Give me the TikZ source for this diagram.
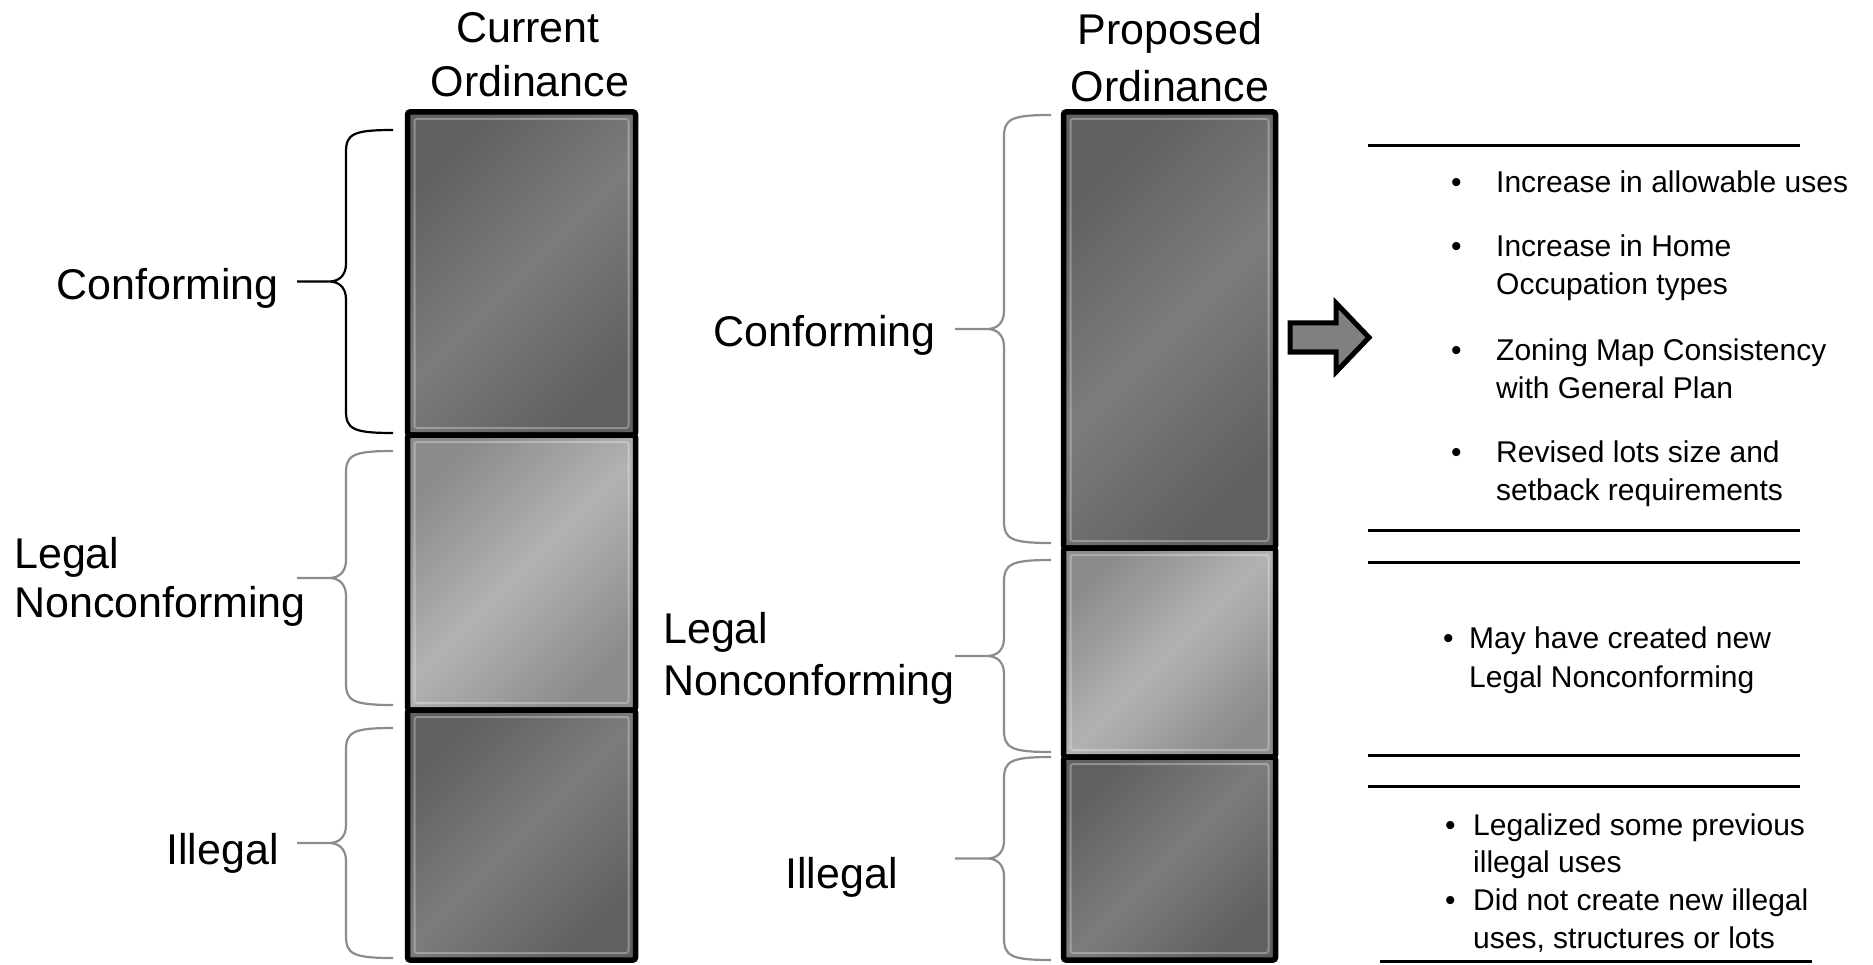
\documentclass[tikz,border=0pt]{standalone}
\usepackage{fontspec}
\setmainfont{Liberation Sans}
\definecolor{segdk}{RGB}{96,96,96}
\definecolor{segdm}{RGB}{124,124,124}
\definecolor{seglt}{RGB}{140,140,140}
\definecolor{seglm}{RGB}{178,178,178}
% curly brace: style, end x, top y, bottom y
\newcommand{\ordbrace}[4]{%
  \draw[#1] (#2,#3) .. controls ({#2-40},#3) and ({#2-47},{#3+4}) .. ({#2-47},{#3+22})
    -- ({#2-47},{(#3+#4)/2-18}) .. controls ({#2-47},{(#3+#4)/2-5}) and ({#2-55},{(#3+#4)/2}) .. ({#2-64},{(#3+#4)/2})
    -- ({#2-96},{(#3+#4)/2})
    ({#2-64},{(#3+#4)/2}) .. controls ({#2-55},{(#3+#4)/2}) and ({#2-47},{(#3+#4)/2+5}) .. ({#2-47},{(#3+#4)/2+18})
    -- ({#2-47},{#4-22}) .. controls ({#2-47},{#4-4}) and ({#2-40},#4) .. (#2,#4);}

\begin{document}
\begin{tikzpicture}[x=1pt, y=-1pt,
  seg/.style={rectangle, draw=black, line width=5.5, rounded corners=2.5, inner sep=0,
    path picture={\draw[white, opacity=.3, line width=2] ([shift={(7,7)}]path picture bounding box.north west) rectangle ([shift={(-7,-7)}]path picture bounding box.south east);}},
  dkseg/.style={seg, shading=axis, top color=segdk, bottom color=segdk, middle color=segdm, shading angle=45},
  ltseg/.style={seg, shading=axis, top color=seglt, bottom color=seglt, middle color=seglm, shading angle=45},
  hd/.style={font=\fontsize{43}{52}\selectfont, inner sep=0, anchor=base},
  lb/.style={font=\fontsize{43}{52}\selectfont, inner sep=0},
  itm/.style={font=\fontsize{30}{36}\selectfont, inner sep=0, anchor=base west},
  brk/.style={black, line width=2.2}, brg/.style={black!45, line width=2.2},
  rule/.style={black, line width=3}]
\useasboundingbox (0,0) rectangle (1873,965);
% headers
\node[hd] (curA) at (528,43) {Current}; \node[hd] (curB) at (530,97) {Ordinance};
\node[hd] (proA) at (1170,45) {Proposed}; \node[hd] (proB) at (1170,102) {Ordinance};
% bars
\node[dkseg, minimum width=228, minimum height=323] (cur1) at (521.5,273.5) {};
\node[ltseg, minimum width=228, minimum height=275] (cur2) at (521.5,572.5) {};
\node[dkseg, minimum width=228, minimum height=250] (cur3) at (521.5,835) {};
\node[dkseg, minimum width=212, minimum height=436] (pro1) at (1169.5,330) {};
\node[ltseg, minimum width=212, minimum height=209] (pro2) at (1169.5,652.5) {};
\node[dkseg, minimum width=212, minimum height=203] (pro3) at (1169.5,858.5) {};
% braces
\ordbrace{brk}{393}{130}{433}
\ordbrace{brg}{393}{451}{705}
\ordbrace{brg}{393}{728}{958}
\ordbrace{brg}{1051}{115}{543}
\ordbrace{brg}{1051}{560}{752}
\ordbrace{brg}{1051}{757}{960}
% labels
\node[lb, anchor=base east] (lcon) at (279,300) {Conforming};
\node[lb, anchor=base west] (lleg) at (14,568) {Legal};
\node[lb, anchor=base west] (lnon) at (14,617) {Nonconforming};
\node[lb, anchor=base east] (lill) at (279,864) {Illegal};
\node[lb, anchor=base east] (rcon) at (936,347) {Conforming};
\node[lb, anchor=base west] (rleg) at (663,643) {Legal};
\node[lb, anchor=base west] (rnon) at (663,695) {Nonconforming};
\node[lb, anchor=base east] (rill) at (898,888) {Illegal};
% block arrow
\draw[black, line width=5, fill=gray, line join=miter] (1290,323) -- (1336,323) -- (1336,303) -- (1369,337.5) -- (1336,372) -- (1336,352) -- (1290,352) -- cycle;
% rules
\foreach \ry in {146,530,562,755,786} \draw[rule] (1368,\ry) -- (1800,\ry);
\draw[rule] (1380,961) -- (1812,961);
% bullets and items
\foreach \bx/\by in {1451/193,1451/257,1451/360,1451/462,1443/648,1445/835,1445/910}
  \node[itm] (dot\by) at (\bx,\by) {\textbullet};
\foreach \tx/\ty/\txt in {1496/193/{Increase in allowable uses}, 1496/257/{Increase in Home}, 1496/295/{Occupation types},
    1496/360/{Zoning Map Consistency}, 1496/398/{with General Plan}, 1496/462/{Revised lots size and}, 1496/500/{setback requirements},
    1469/648/{May have created new}, 1469/687/{Legal Nonconforming},
    1473/835/{Legalized some previous}, 1473/872/{illegal uses}, 1473/910/{Did not create new illegal}, 1473/948/{uses, structures or lots}}
  \node[itm] (ln\ty) at (\tx,\ty) {\txt};
\end{tikzpicture}
\end{document}
